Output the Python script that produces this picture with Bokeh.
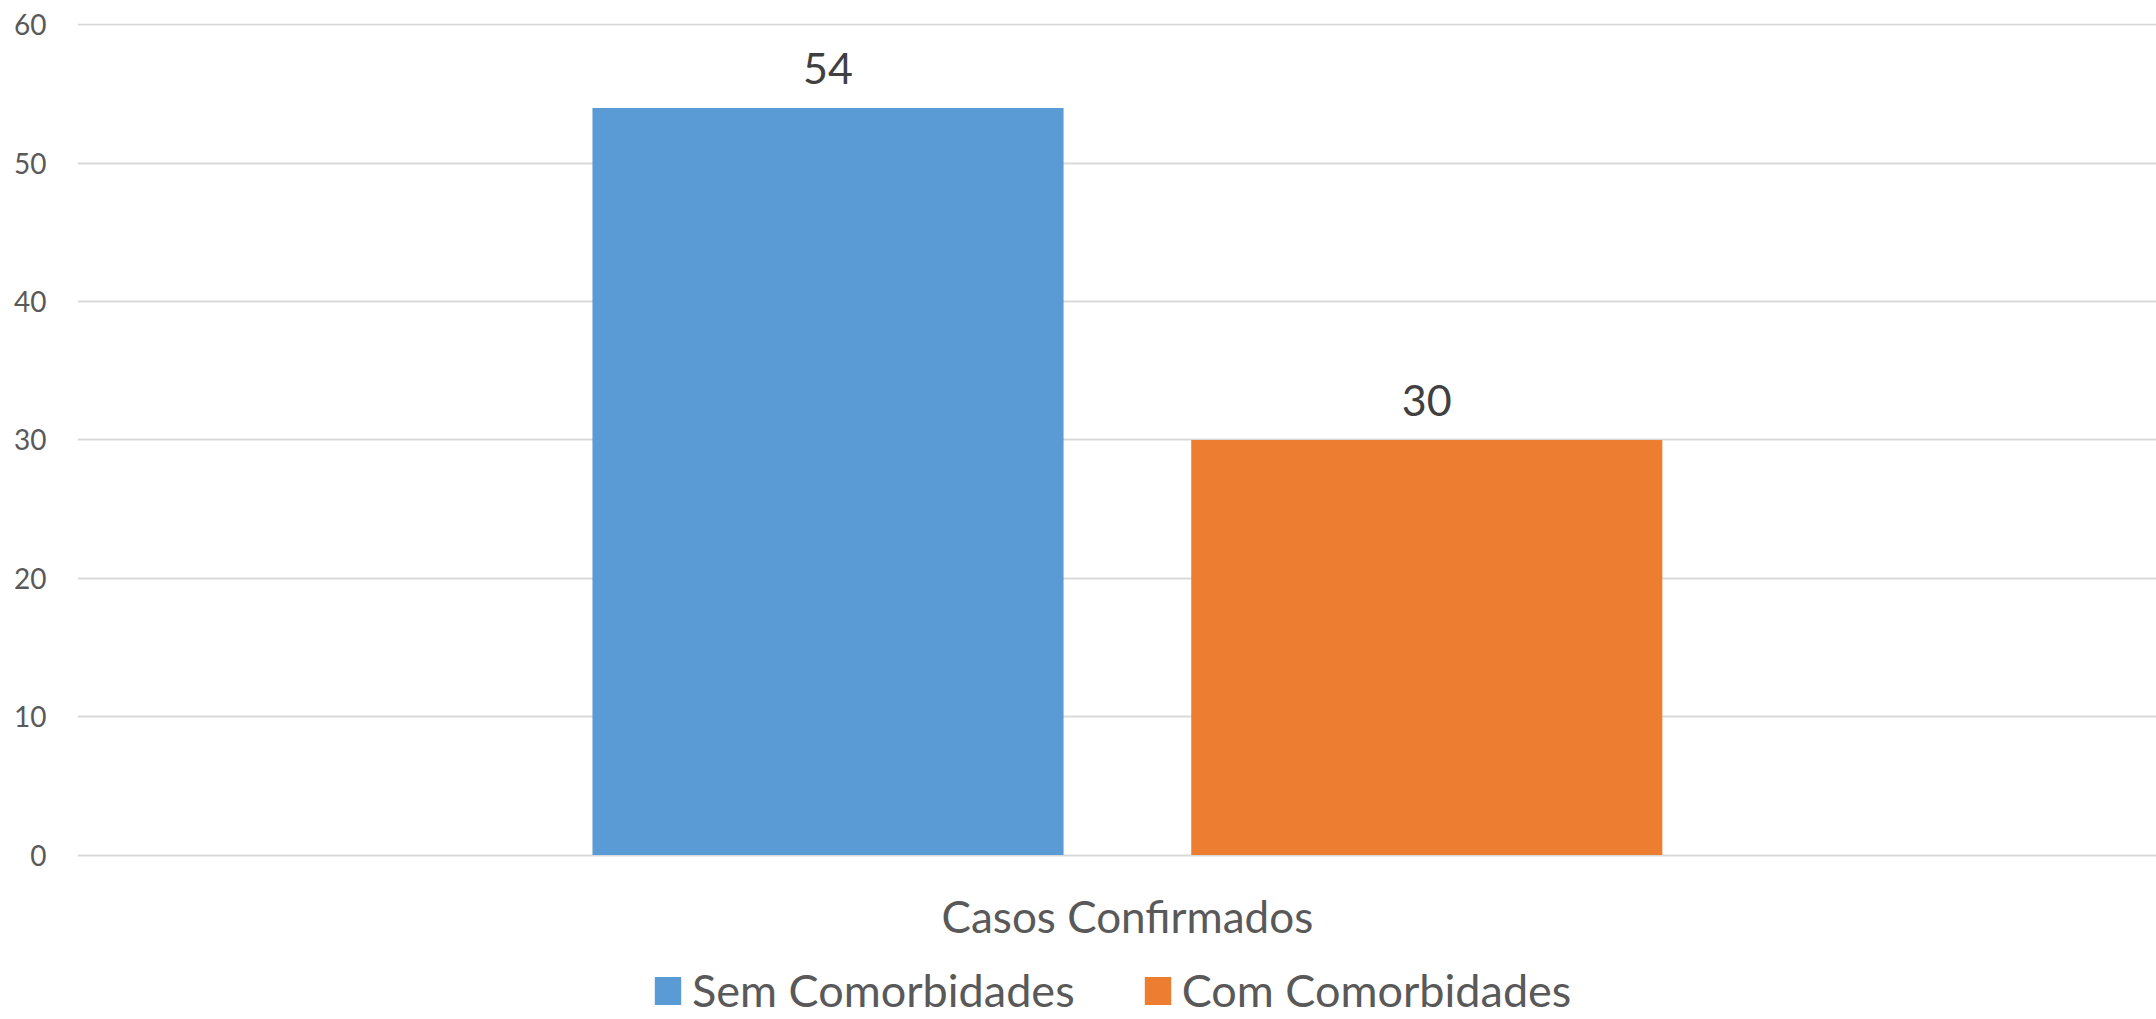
from bokeh.plotting import figure
from bokeh.models import (Range1d, FixedTicker, ColumnDataSource, LabelSet,
                          Label, Legend, LegendItem)
from bokeh.core.properties import value
from bokeh.embed import file_html
from bokeh.resources import INLINE

category = "Casos Confirmados"
series = ["Sem Comorbidades", "Com Comorbidades"]
values = [54, 30]
colors = ["#5B9BD5", "#ED7D31"]
offsets = [-0.144, 0.144]
y_ticks = [0, 10, 20, 30, 40, 50, 60]

FONT = "Lato"

# frame extends below the zero line to host the category label and legend
p = figure(frame_width=2079, frame_height=996, output_backend="svg", toolbar_location=None,
           x_range=Range1d(-0.505, 0.495), y_range=Range1d(-11.88, 60.1),
           min_border_top=23, min_border_left=77, min_border_right=0,
           min_border_bottom=0, outline_line_color=None)

src = ColumnDataSource(dict(x=offsets, top=values, color=colors,
                            label=[str(v) for v in values], name=series))

items = []
for i in range(len(series)):
    s = ColumnDataSource(dict(x=[offsets[i]], top=[values[i]]))
    r = p.vbar(x="x", top="top", bottom=0, width=0.2266, source=s,
               fill_color=colors[i], line_color=None)
    items.append(LegendItem(label=series[i], renderers=[r]))

labels = LabelSet(x="x", y="top", text="label", source=src,
                  text_align="center", text_baseline="alphabetic", y_offset=24,
                  text_font=value(FONT), text_font_size=value("43px"),
                  text_color=value("#404040"))
p.add_layout(labels)

cat_label = Label(x=0, y=0, text=category, y_offset=-61,
                  text_align="center", text_baseline="middle",
                  text_font=FONT, text_font_size="44px", text_color="#595959")
p.add_layout(cat_label)

# y axis
p.yaxis.ticker = FixedTicker(ticks=y_ticks)
p.yaxis.axis_line_color = None
p.yaxis.major_tick_line_color = None
p.yaxis.minor_tick_line_color = None
p.yaxis.major_label_text_font = FONT
p.yaxis.major_label_text_font_size = "28px"
p.yaxis.major_label_text_color = "#595959"
p.yaxis.major_label_standoff = 25

p.xaxis.visible = False

p.xgrid.grid_line_color = None
p.ygrid.ticker = FixedTicker(ticks=y_ticks)
p.ygrid.grid_line_color = "#D9D9D9"
p.ygrid.grid_line_width = 2

legend = Legend(items=items, orientation="horizontal", location=(574, 2),
                label_text_font=FONT, label_text_font_size="45px",
                label_text_color="#595959", glyph_width=33, glyph_height=35,
                label_standoff=8, spacing=66, border_line_color=None,
                background_fill_alpha=0, padding=0, margin=0)
p.add_layout(legend, "center")

open("out.html", "w").write(file_html(p, INLINE))
